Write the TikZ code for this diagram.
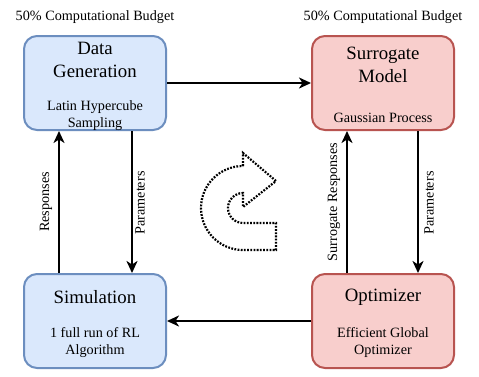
\documentclass[tikz,border=0pt]{standalone}
\usepackage{fontspec}
\setmainfont{Liberation Serif}
\usetikzlibrary{arrows.meta,calc}
\definecolor{bluefill}{HTML}{DAE8FC}
\definecolor{bluedraw}{HTML}{6C8EBF}
\definecolor{redfill}{HTML}{F8CECC}
\definecolor{reddraw}{HTML}{B85450}
\tikzset{
  box/.style={rectangle, rounded corners=13pt, line width=2pt, minimum width=142pt, minimum height=94pt, inner sep=0pt},
  bluebox/.style={box, draw=bluedraw, fill=bluefill},
  redbox/.style={box, draw=reddraw, fill=redfill},
  bigtxt/.style={font=\fontsize{18.8}{23}\selectfont, align=center, inner sep=0pt},
  smalltxt/.style={font=\fontsize{14.2}{17}\selectfont, align=center, inner sep=0pt},
  arr/.style={line width=2pt, -{Stealth[length=12pt,width=11pt,inset=3.5pt]}},
  sidelbl/.style={font=\fontsize{14.2}{16}\selectfont, rotate=90, inner sep=0pt},
}
\begin{document}
\begin{tikzpicture}[x=1pt,y=-1pt]
\useasboundingbox[fill=white] (0,0) rectangle (479,376);
% boxes
\node[bluebox] (dg) at (95,83) {};
\node[redbox] (sm) at (383,83) {};
\node[bluebox] (sim) at (95,321) {};
\node[redbox] (opt) at (383,321) {};
% titles
\node[smalltxt] (t1) at (95,17) {50\% Computational Budget};
\node[smalltxt] (t2) at (383,17) {50\% Computational Budget};
% box texts
\node[bigtxt] (dgt) at (95,60) {Data\\Generation};
\node[smalltxt] (dgs) at (95,116) {Latin Hypercube\\Sampling};
\node[bigtxt] (smt) at (383,65) {Surrogate\\Model};
\node[smalltxt] (sms) at (383,118) {Gaussian Process};
\node[bigtxt] (simt) at (95,297) {Simulation};
\node[smalltxt] (sims) at (95,343) {1 full run of RL\\Algorithm};
\node[bigtxt] (optt) at (383,297) {Optimizer};
\node[smalltxt] (opts) at (383,343) {Efficient Global\\Optimizer};
% connectors
\draw[arr] (dg.east) -- (sm.west);
\draw[arr] (opt.west) -- (sim.east);
\coordinate (xa) at (59,0);
\coordinate (xb) at (132,0);
\coordinate (xc) at (347,0);
\coordinate (xd) at (418,0);
\draw[arr] (xa |- sim.north) -- (xa |- dg.south);
\draw[arr] (xb |- dg.south) -- (xb |- sim.north);
\draw[arr] (xc |- opt.north) -- (xc |- sm.south);
\draw[arr] (xd |- sm.south) -- (xd |- opt.north);
\node[sidelbl] (l1) at (46,202) {Responses};
\node[sidelbl] (l2) at (140,203) {Parameters};
\node[sidelbl] (l3) at (334,202) {Surrogate Responses};
\node[sidelbl] (l4) at (429,203) {Parameters};
% center cycle arrow
\draw[line width=2.2pt, dash pattern=on 1.8pt off 1.4pt]
  (243,166) -- (243,153) -- (276,181) -- (243,207) -- (243,193)
  arc[start angle=270, end angle=90, radius=15]
  -- (276,223) -- (276,250) -- (243,250)
  arc[start angle=90, end angle=270, radius=42] -- cycle;
\end{tikzpicture}
\end{document}
